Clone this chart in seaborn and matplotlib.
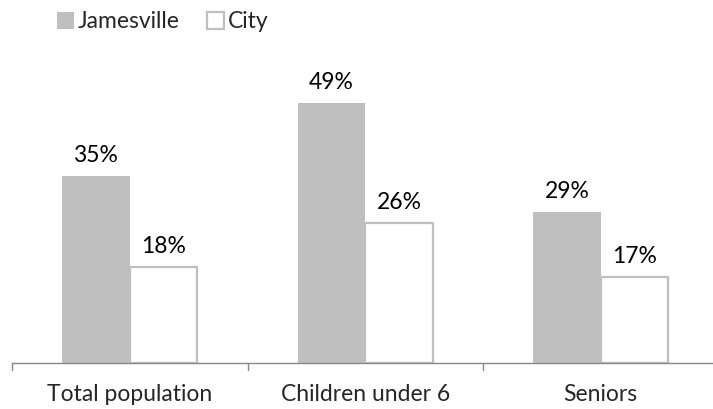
import matplotlib
matplotlib.use("Agg")
import matplotlib.pyplot as plt
import seaborn as sns
import pandas as pd
from matplotlib.patches import Patch

categories = ["Total population", "Children under 6", "Seniors"]
jamesville = [35.1, 48.8, 28.4]
city = [18.0, 26.3, 16.2]
jamesville_labels = ["35%", "49%", "29%"]
city_labels = ["18%", "26%", "17%"]
series_names = ["Jamesville", "City"]

df = pd.DataFrame({
    "category": categories * 2,
    "value": jamesville + city,
    "series": [series_names[0]] * 3 + [series_names[1]] * 3,
})

sns.set_style("white")
plt.rcParams["font.family"] = ["Lato", "DejaVu Sans"]

FS = 16.5
W, H = 713, 409
fig = plt.figure(figsize=(W / 100, H / 100), dpi=100)
ax = fig.add_axes([12 / W, (H - 363) / H, 706.5 / W, (363 - 60) / H])

gray = "#BFBFBF"
sns.barplot(data=df, x="category", y="value", hue="series", order=categories,
            hue_order=series_names, palette=[gray, "white"], width=0.575,
            ax=ax, legend=False, saturation=1)

for i, bar in enumerate(ax.patches[:6]):
    if i < 3:
        bar.set_facecolor(gray)
        bar.set_edgecolor("none")
    else:
        bar.set_facecolor("white")
        bar.set_edgecolor(gray)
        bar.set_linewidth(1.6)

for container, labs in zip(ax.containers, [jamesville_labels, city_labels]):
    ax.bar_label(container, labels=labs, padding=7, fontsize=FS, color="black")

ax.set_ylim(0, 56.8)
ax.set_xlim(-0.5, 2.5)
ax.set_xlabel("")
ax.set_ylabel("")
ax.set_yticks([])
for s in ["top", "right", "left"]:
    ax.spines[s].set_visible(False)
ax.spines["bottom"].set_color("#888888")
ax.spines["bottom"].set_linewidth(1.0)

ax.set_xticks([0, 1, 2])
ax.set_xticklabels(categories, fontsize=FS)
ax.tick_params(axis="x", length=0, pad=15)
for xb in [-0.5, 0.5, 1.5, 2.5]:
    ax.plot([xb, xb], [0, -1.3], color="#888888", lw=1.0, clip_on=False)

handles = [Patch(facecolor=gray, edgecolor="none", label="Jamesville"),
           Patch(facecolor="white", edgecolor=gray, linewidth=1.6, label="City")]
fig.legend(handles=handles, loc="upper left", bbox_to_anchor=(48 / W, 1 - 2 / H),
           ncol=2, frameon=False, fontsize=FS, handlelength=0.75, handleheight=0.75,
           handletextpad=0.15, columnspacing=1.2, borderaxespad=0)

fig.savefig("out.png", dpi=100)
